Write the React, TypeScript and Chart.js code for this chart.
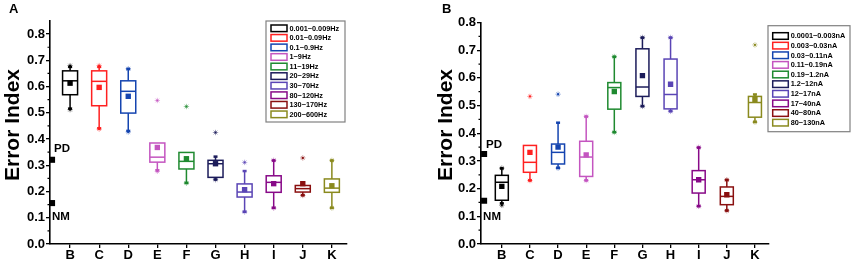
import React, { useEffect, useRef } from "react";
import { Chart, registerables } from "chart.js";

Chart.register(...registerables);

const FONT = "'Liberation Sans', Arial, sans-serif";

const categories = ["B", "C", "D", "E", "F", "G", "H", "I", "J", "K"];
const colors = ["#000000", "#ff2020", "#1545b0", "#c455c0", "#1f8a30", "#1c1c5a", "#5a45b5", "#880a88", "#8a1010", "#8a8a1e"];

const legendA = ["0.001~0.009Hz", "0.01~0.09Hz", "0.1~0.9Hz", "1~9Hz", "11~19Hz", "20~29Hz", "30~70Hz", "80~120Hz", "130~170Hz", "200~600Hz"];
const legendB = ["0.0001~0.003nA", "0.003~0.03nA", "0.03~0.11nA", "0.11~0.19nA", "0.19~1.2nA", "1.2~12nA", "12~17nA", "17~40nA", "40~80nA", "80~130nA"];

// Panel A values
const aQ3 = [0.660, 0.660, 0.622, 0.385, 0.349, 0.319, 0.229, 0.260, 0.223, 0.248];
const aQ1 = [0.569, 0.527, 0.499, 0.312, 0.286, 0.254, 0.179, 0.197, 0.198, 0.197];
const aMedian = [0.622, 0.620, 0.582, 0.331, 0.315, 0.306, 0.198, 0.235, 0.211, 0.213];
const aMean = [0.613, 0.597, 0.563, 0.368, 0.325, 0.306, 0.207, 0.230, 0.230, 0.222];
const aWhiskerHigh = [0.676, 0.676, 0.668, 0.385, 0.350, 0.334, 0.279, 0.319, 0.230, 0.319];
const aWhiskerLow = [0.515, 0.440, 0.430, 0.280, 0.232, 0.245, 0.122, 0.137, 0.185, 0.137];
const aMax = [0.680, 0.680, 0.668, 0.547, 0.524, 0.425, 0.311, 0.319, 0.328, 0.319];
const aMin = [0.512, 0.438, 0.427, 0.277, 0.232, 0.245, 0.122, 0.137, 0.185, 0.137];
const aPD = 0.321;
const aNM = 0.156;

// Panel B values
const bQ3 = [0.248, 0.356, 0.361, 0.371, 0.583, 0.705, 0.668, 0.265, 0.206, 0.533];
const bQ1 = [0.158, 0.259, 0.289, 0.244, 0.487, 0.533, 0.488, 0.184, 0.142, 0.458];
const bMedian = [0.223, 0.295, 0.331, 0.314, 0.565, 0.567, 0.540, 0.232, 0.172, 0.511];
const bMean = [0.208, 0.331, 0.350, 0.322, 0.551, 0.608, 0.577, 0.232, 0.178, 0.521];
const bWhiskerHigh = [0.274, 0.356, 0.439, 0.461, 0.677, 0.746, 0.746, 0.349, 0.232, 0.541];
const bWhiskerLow = [0.146, 0.229, 0.274, 0.229, 0.403, 0.497, 0.479, 0.136, 0.120, 0.440];
const bMax = [0.274, 0.533, 0.541, 0.461, 0.677, 0.746, 0.746, 0.349, 0.232, 0.719];
const bMin = [0.140, 0.229, 0.274, 0.229, 0.403, 0.497, 0.479, 0.136, 0.120, 0.440];
const bPD = 0.325;
const bNM = 0.156;

const yTicks = [0, 0.1, 0.2, 0.3, 0.4, 0.5, 0.6, 0.7, 0.8];
const yMinorTicks = [0.05, 0.15, 0.25, 0.35, 0.45, 0.55, 0.65, 0.75];

function rgba(hex: string, a: number) {
  const n = parseInt(hex.slice(1), 16);
  return `rgba(${(n >> 16) & 255},${(n >> 8) & 255},${n & 255},${a})`;
}

type PanelDef = {
  letter: string;
  q1: number[]; q3: number[]; median: number[]; mean: number[];
  wl: number[]; wh: number[]; mn: number[]; mx: number[];
  pd: number; nm: number; refX: number;
  legend: string[];
  canvasLeft: number; canvasWidth: number;
  xMin: number; xMax: number; yMax: number;
  padTop: number; padRight: number; yAxisWidth: number; xAxisHeight: number;
  boxW: number;
  letterX: number; titleX: number;
  pdOff: [number, number]; nmOff: [number, number];
  leg: { x: number; y: number; w: number; h: number; first: number; step: number; swX: number; swW: number; txtX: number };
};

const panelA: PanelDef = {
  letter: "A",
  q1: aQ1, q3: aQ3, median: aMedian, mean: aMean, wl: aWhiskerLow, wh: aWhiskerHigh, mn: aMin, mx: aMax,
  pd: aPD, nm: aNM, refX: 0.38, legend: legendA,
  canvasLeft: 0, canvasWidth: 425,
  xMin: 0.31, xMax: 10.52, yMax: 0.85,
  padTop: 21, padRight: 78, yAxisWidth: 50, xAxisHeight: 16,
  boxW: 15,
  letterX: 9, titleX: 13,
  pdOff: [2, -10.5], nmOff: [0, 14],
  leg: { x: 266, y: 21, w: 79, h: 101, first: 28.3, step: 9.56, swX: 271, swW: 16, txtX: 289.5 },
};

const panelB: PanelDef = {
  letter: "B",
  q1: bQ1, q3: bQ3, median: bMedian, mean: bMean, wl: bWhiskerLow, wh: bWhiskerHigh, mn: bMin, mx: bMax,
  pd: bPD, nm: bNM, refX: 0.37, legend: legendB,
  canvasLeft: 425, canvasWidth: 426,
  xMin: 0.26, xMax: 10.5, yMax: 0.8,
  padTop: 22.5, padRight: 82, yAxisWidth: 56, xAxisHeight: 16,
  boxW: 13,
  letterX: 17, titleX: 21,
  pdOff: [2, -9.5], nmOff: [-1, 16.5],
  leg: { x: 343, y: 25.7, w: 82, h: 106, first: 36, step: 9.63, swX: 347.7, swW: 15.6, txtX: 365.7 },
};

function makePlugin(p: PanelDef) {
  return {
    id: "boxdeco" + p.letter,
    beforeDatasetsDraw(chart: any) {
      const { ctx } = chart;
      const x = chart.scales.x;
      const y = chart.scales.y;
      ctx.save();
      categories.forEach((_c, i) => {
        const cx = x.getPixelForValue(i + 1);
        const hw = p.boxW / 2;
        const y1 = y.getPixelForValue(p.q1[i]);
        const y3 = y.getPixelForValue(p.q3[i]);
        const ym = y.getPixelForValue(p.median[i]);
        const ywl = y.getPixelForValue(p.wl[i]);
        const ywh = y.getPixelForValue(p.wh[i]);
        ctx.strokeStyle = colors[i];
        ctx.fillStyle = colors[i];
        ctx.lineWidth = 1.5;
        ctx.beginPath();
        ctx.moveTo(cx, y3);
        ctx.lineTo(cx, ywh);
        ctx.moveTo(cx, y1);
        ctx.lineTo(cx, ywl);
        ctx.stroke();
        if (ywh < y3 - 1) ctx.fillRect(cx - 2, ywh - 1, 4, 2.5);
        if (ywl > y1 + 1) ctx.fillRect(cx - 2, ywl - 1.5, 4, 2.5);
        ctx.fillStyle = "#ffffff";
        ctx.fillRect(cx - hw, y3, 2 * hw, y1 - y3);
        ctx.strokeRect(cx - hw, y3, 2 * hw, y1 - y3);
        ctx.beginPath();
        ctx.moveTo(cx - hw, ym);
        ctx.lineTo(cx + hw, ym);
        ctx.stroke();
      });
      ctx.restore();
    },
    afterDraw(chart: any) {
      const { ctx } = chart;
      const x = chart.scales.x;
      const y = chart.scales.y;
      ctx.save();
      // minor y ticks
      ctx.strokeStyle = "#000";
      ctx.lineWidth = 1.2;
      ctx.beginPath();
      yMinorTicks.forEach((v) => {
        if (v > p.yMax) return;
        const py = y.getPixelForValue(v);
        ctx.moveTo(chart.chartArea.left - 2.5, py);
        ctx.lineTo(chart.chartArea.left, py);
      });
      ctx.stroke();
      ctx.fillStyle = "#000";
      // panel letter
      ctx.font = `bold 13px ${FONT}`;
      ctx.textAlign = "left";
      ctx.textBaseline = "alphabetic";
      ctx.fillText(p.letter, p.letterX, 12.5);
      // y title
      ctx.save();
      ctx.translate(p.titleX, 125);
      ctx.rotate(-Math.PI / 2);
      ctx.font = `bold 21px ${FONT}`;
      ctx.textAlign = "center";
      ctx.textBaseline = "middle";
      ctx.fillText("Error Index", 0, 0);
      ctx.restore();
      // PD / NM labels
      ctx.font = `bold 11.5px ${FONT}`;
      ctx.textAlign = "left";
      ctx.textBaseline = "middle";
      const rx = x.getPixelForValue(p.refX);
      ctx.fillText("PD", rx + p.pdOff[0], y.getPixelForValue(p.pd) + p.pdOff[1]);
      ctx.fillText("NM", rx + p.nmOff[0], y.getPixelForValue(p.nm) + p.nmOff[1]);
      // legend
      const L = p.leg;
      ctx.fillStyle = "#fff";
      ctx.fillRect(L.x, L.y, L.w, L.h);
      ctx.strokeStyle = "#808080";
      ctx.lineWidth = 1.2;
      ctx.strokeRect(L.x, L.y, L.w, L.h);
      ctx.font = `bold 7.3px ${FONT}`;
      ctx.textBaseline = "middle";
      p.legend.forEach((t, i) => {
        const cy = L.first + i * L.step;
        ctx.strokeStyle = colors[i];
        ctx.lineWidth = 1.5;
        ctx.strokeRect(L.swX, cy - 3.3, L.swW, 6.6);
        ctx.fillStyle = "#000";
        ctx.fillText(t, L.txtX, cy + 0.3);
      });
      ctx.restore();
    },
  };
}

function buildConfig(p: PanelDef): any {
  const pts = (vals: number[]) => vals.map((v, i) => ({ x: i + 1, y: v }));
  const starStyle = {
    pointStyle: "star",
    pointRadius: 2.7,
    borderWidth: 1,
    borderColor: colors.map((c) => rgba(c, 0.42)),
    backgroundColor: colors.map((c) => rgba(c, 0.42)),
  };
  const dotStyle = {
    pointStyle: "rect",
    pointRadius: 1.3,
    borderWidth: 0,
    backgroundColor: colors,
    borderColor: colors,
  };
  return {
    type: "scatter",
    data: {
      datasets: [
        { label: "max", data: pts(p.mx), ...starStyle },
        { label: "min", data: pts(p.mn), ...starStyle },
        { label: "max dot", data: pts(p.mx), ...dotStyle },
        { label: "min dot", data: pts(p.mn), ...dotStyle },
        {
          label: "mean",
          data: pts(p.mean),
          pointStyle: "rect",
          pointRadius: 3.8,
          borderWidth: 0,
          backgroundColor: colors,
          borderColor: colors,
        },
        {
          label: "PD/NM",
          data: [
            { x: p.refX, y: p.pd },
            { x: p.refX, y: p.nm },
          ],
          pointStyle: "rect",
          pointRadius: 4.3,
          borderWidth: 0,
          backgroundColor: "#000",
          borderColor: "#000",
        },
      ],
    },
    options: {
      animation: false,
      responsive: false,
      devicePixelRatio: 1,
      layout: { padding: { left: 0, top: p.padTop, right: p.padRight, bottom: 0 } },
      plugins: { legend: { display: false }, tooltip: { enabled: false } },
      events: [],
      scales: {
        x: {
          type: "linear",
          min: p.xMin,
          max: p.xMax,
          afterBuildTicks: (axis: any) => {
            axis.ticks = categories.map((_c, i) => ({ value: i + 1 }));
          },
          afterFit: (axis: any) => {
            axis.height = p.xAxisHeight;
          },
          ticks: {
            callback: (v: number) => categories[Math.round(v) - 1] ?? "",
            color: "#000",
            font: { family: FONT, weight: "bold", size: 13 },
            padding: 0,
            maxRotation: 0,
            autoSkip: false,
          },
          grid: { display: true, drawOnChartArea: false, drawTicks: true, tickLength: 4, color: "#000", lineWidth: 1.3 },
          border: { display: true, color: "#000", width: 1.6 },
        },
        y: {
          type: "linear",
          min: 0,
          max: p.yMax,
          afterBuildTicks: (axis: any) => {
            axis.ticks = yTicks.map((v) => ({ value: v }));
          },
          afterFit: (axis: any) => {
            axis.width = p.yAxisWidth;
          },
          ticks: {
            callback: (v: number) => v.toFixed(1),
            color: "#000",
            font: { family: FONT, weight: "bold", size: 13 },
            padding: 1,
          },
          grid: { display: true, drawOnChartArea: false, drawTicks: true, tickLength: 4, color: "#000", lineWidth: 1.3 },
          border: { display: true, color: "#000", width: 1.6 },
        },
      },
    },
    plugins: [makePlugin(p)],
  };
}

function Panel({ p }: { p: PanelDef }) {
  const ref = useRef<HTMLCanvasElement | null>(null);
  useEffect(() => {
    if (!ref.current) return;
    const chart = new Chart(ref.current, buildConfig(p));
    return () => chart.destroy();
  }, [p]);
  return (
    <canvas
      ref={ref}
      width={p.canvasWidth}
      height={260}
      style={{ position: "absolute", left: p.canvasLeft, top: 0, width: p.canvasWidth, height: 260 }}
    />
  );
}

export default function App() {
  return (
    <div style={{ position: "absolute", left: 0, top: 0, width: 851, height: 260, background: "#fff", overflow: "hidden" }}>
      <Panel p={panelA} />
      <Panel p={panelB} />
    </div>
  );
}
